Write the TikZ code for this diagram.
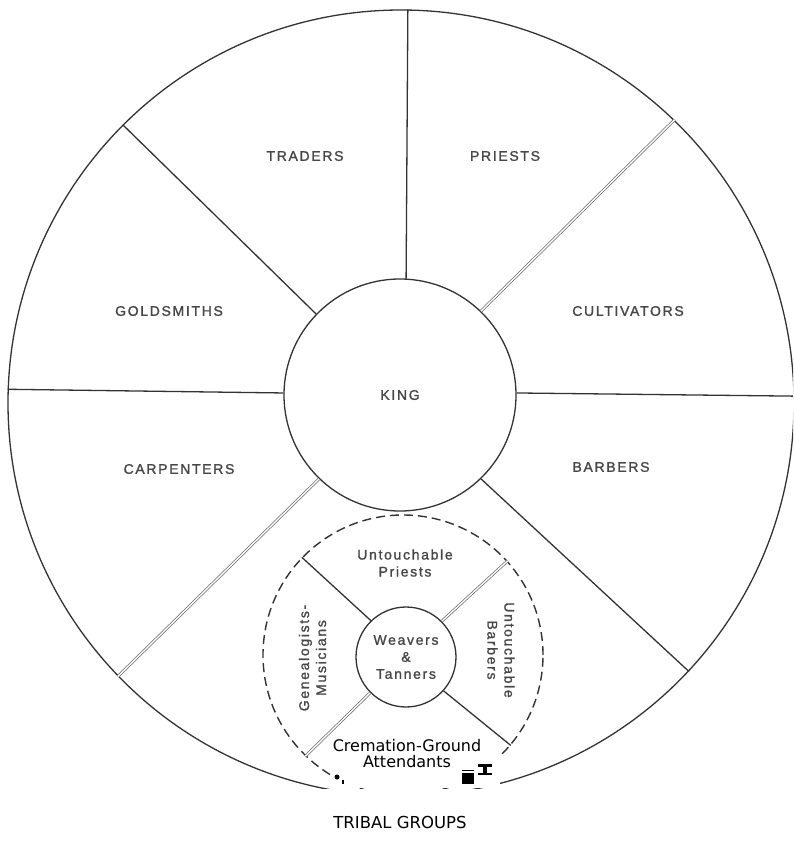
\documentclass[tikz,border=0pt]{standalone}
\usepackage{fontspec}
\setmainfont{Liberation Sans}
\newfontfamily\labfont[LetterSpace=12,FakeBold=1.3]{Liberation Sans}
\newfontfamily\ovfont{DejaVu Sans}
\begin{document}
\begin{tikzpicture}[x=1pt,y=-1pt,
  lab/.style={font=\labfont\fontsize{14}{17}\selectfont, text=black!72, align=center, inner sep=0pt},
  ring/.style={circle, draw=black!80, line width=1.3pt, minimum size=#1, inner sep=0pt},
  spoke/.style={draw=black!80, line width=1.3pt},
  dbl/.style={draw=black!60, line width=0.7pt, double=white, double distance=1.4pt},
  dashring/.style={circle, draw=black!80, line width=1.4pt, dash pattern=on 9pt off 5pt, minimum size=#1, inner sep=0pt},
  ov/.style={font=\ovfont\fontsize{16}{16}\selectfont, text=black, align=center, inner sep=0pt}]
\useasboundingbox (0,0) rectangle (793,859);
\fill[white] (0,0) rectangle (793,859);
\begin{scope}
\clip (0,0) rectangle (793,788);
\node[ring=786pt] (big) at (401,403) {};
\node[ring=232pt, lab] (king) at (400,395) {KING};
\node[dashring=280pt] (dsh) at (403,655) {};
\node[ring=100pt, lab] (weav) at (406,657) {Weavers\\\&\\Tanners};
% outer spokes
\draw[spoke] (king.87.5) -- (big.89.4);
\draw[spoke] (king.179) -- (big.178.5);
\draw[spoke] (king.1.5) -- (big.1.6);
\draw[spoke] (king.136.8) -- (big.135.6);
\draw[dbl] (king.46.8) -- (big.46.7);
\draw[dbl] (king.226) -- (big.224.6);
\draw[spoke] (king.314.3) -- (big.317.3);
% inner spokes
\draw[spoke] (weav.134) -- (dsh.136.5);
\draw[dbl] (weav.45.7) -- (dsh.42.4);
\draw[dbl] (weav.225) -- (dsh.226.5);
\draw[spoke] (weav.318.7) -- (dsh.320);
\end{scope}
% outer labels
\node[lab] (traders) at (305,156) {TRADERS};
\node[lab] (priests) at (505,156) {PRIESTS};
\node[lab] (gold) at (169,311) {GOLDSMITHS};
\node[lab] (cult) at (628,311) {CULTIVATORS};
\node[lab] (carp) at (179,469) {CARPENTERS};
\node[lab] (barb) at (611,467) {BARBERS};
% inner labels
\node[lab] (upriests) at (405,563) {Untouchable\\Priests};
\node[lab, rotate=90] (geneal) at (312.5,658) {Genealogists-\\Musicians};
\node[lab, rotate=-90] (ubarb) at (501,650) {Untouchable\\Barbers};
% overlay
\fill[white] (332,737) rectangle (500,788);
\node[ov] (crem) at (407,754) {Cremation-Ground\\Attendants};
\fill[black] (337,777) circle (2.5pt);
\fill[black] (342,780) rectangle (343.5,784);
\fill[black] (462,769.5) rectangle (474,771);
\fill[black] (462,773) rectangle (474,784);
\fill[black] (478,764) rectangle (492,766.5);
\fill[black] (483,764) rectangle (487,775);
\fill[black] (478,772.5) rectangle (492,775);
\node[ov, font=\ovfont\fontsize{16.5}{16.5}\selectfont] (tribal) at (400,822) {TRIBAL GROUPS};
\end{tikzpicture}
\end{document}
